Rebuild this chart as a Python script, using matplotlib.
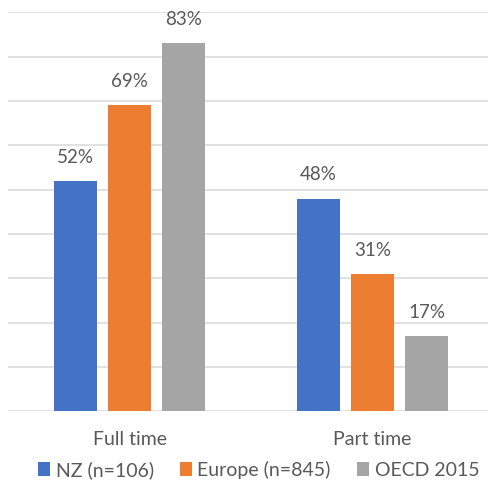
import matplotlib
matplotlib.use("Agg")
import matplotlib.pyplot as plt
import numpy as np

categories = ["Full time", "Part time"]
series_names = ["NZ (n=106)", "Europe (n=845)", "OECD 2015"]
nz = [52, 48]
europe = [69, 31]
oecd = [83, 17]
colors = ["#4472C4", "#ED7D31", "#A5A5A5"]

plt.rcParams["font.family"] = ["Lato", "DejaVu Sans"]
text_color = "#595959"

W, H = 489, 482
fig = plt.figure(figsize=(W / 100, H / 100), dpi=100)
ax = fig.add_axes([8 / W, (H - 411.3) / H, 480 / W, (411.3 - 12.3) / H])

x = np.arange(len(categories))
bar_w = 0.177
step = 0.222
for i, (vals, name, col) in enumerate(zip([nz, europe, oecd], series_names, colors)):
    pos = x + (i - 1) * step
    bars = ax.bar(pos, vals, width=bar_w, color=col, label=name, zorder=3)
    for b, v in zip(bars, vals):
        ax.annotate(f"{v}%", (b.get_x() + b.get_width() / 2, v),
                    xytext=(0, 17), textcoords="offset points",
                    ha="center", va="center", fontsize=13.5, color=text_color)

ax.set_xlim(-0.5, 1.475)
ax.set_ylim(0, 90)
ax.set_yticks(np.arange(0, 91, 10))
ax.yaxis.grid(True, color="#D9D9D9", linewidth=1.1, zorder=0)
ax.tick_params(axis="y", left=False, labelleft=False)
ax.tick_params(axis="x", bottom=False, pad=11)
ax.set_xticks(x)
ax.set_xticklabels(categories, fontsize=14, color=text_color)
for s in ax.spines.values():
    s.set_visible(False)

fig.legend(loc="center", bbox_to_anchor=(0.529, 1 - 470 / H), ncol=3, frameon=False,
           fontsize=14, labelcolor=text_color, handlelength=0.6, handleheight=0.7,
           handletextpad=0.3, columnspacing=1.35)

fig.savefig("out.png", dpi=100)
